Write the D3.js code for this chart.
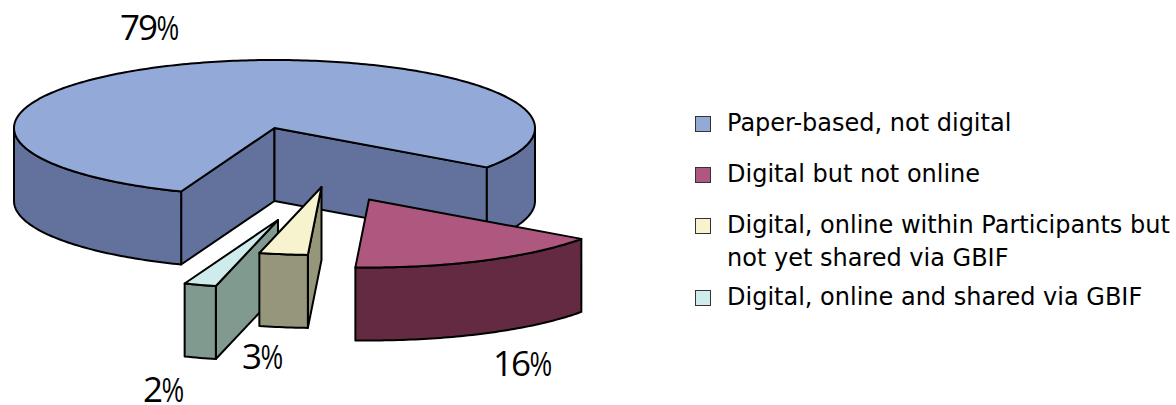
<!DOCTYPE html>
<html>
<head>
<meta charset="utf-8">
<script src="https://cdn.jsdelivr.net/npm/d3@7"></script>
<style>
html, body { margin: 0; padding: 0; background: #fff; }
svg { display: block; }
.legend text { font-family: "DejaVu Sans", sans-serif; font-size: 24px; fill: #000; }
.pct text { font-family: "Open Sans", sans-serif; font-size: 35px; fill: #000; letter-spacing: -2px; }
.pct text.sign { font-family: "Liberation Sans", sans-serif; font-size: 35px; letter-spacing: 0; }
</style>
</head>
<body>
<svg id="chart" width="1176" height="405"></svg>
<script>
// Share of specimen records by digitisation status
const categories = [
  "Paper-based, not digital",
  "Digital but not online",
  "Digital, online within Participants but|not yet shared via GBIF",
  "Digital, online and shared via GBIF"
];
const shares = [79, 16, 3, 2];
const topColors = ["#93a9d8", "#ae5880", "#f7f3cf", "#cfecec"];
const wallColors = ["#62729c", "#632a42", "#96977a", "#809a90"];

// Tilted-disc projection: unit coordinates map onto the ellipse of the pie top
const cx = 274.5, cy = 128, rx = 260.5, ry = 68, depth = 73;
const sx = d3.scaleLinear().domain([-1, 1]).range([cx - rx, cx + rx]);
const sy = d3.scaleLinear().domain([-1, 1]).range([cy - ry, cy + ry]);

// How far each slice is pulled away from the disc
const pull = [[0, 0], [94.5, 71.5], [47, 59], [3.5, 92]];
// Label anchor, slice by slice
const labelPos = [[120, 40], [493, 376], [242, 369], [143, 402]];

const pie = d3.pie().sort(null).value(d => d)
  .startAngle(201 * Math.PI / 180)
  .endAngle((201 + 360) * Math.PI / 180);
const slices = pie(shares).map((s, i) => ({ ...s, i, off: pull[i] }));

const line = d3.line();
const pt = (a, off, r = 1, z = 0) => [
  sx(r * Math.sin(a)) + off[0],
  sy(-r * Math.cos(a)) + off[1] + z
];
// Points along a rim between two pie angles
const rim = (a0, a1, off, z = 0) => {
  const n = Math.max(2, Math.ceil(Math.abs(a1 - a0) * 60));
  return d3.range(n + 1).map(k => pt(a0 + (a1 - a0) * k / n, off, 1, z));
};

const svg = d3.select("#chart");
const draw = (g, pts, fill) =>
  g.append("path")
    .attr("d", line(pts) + "Z")
    .attr("fill", fill)
    .attr("stroke", "#000")
    .attr("stroke-width", 2)
    .attr("stroke-linejoin", "round");

const pies = svg.append("g");

// Outer wall, restricted to the part of the rim that faces the viewer
const outerWall = (g, s, a0, a1) => {
  const top = rim(a0, a1, s.off);
  const bottom = rim(a1, a0, s.off, depth);
  draw(g, top.concat(bottom), wallColors[s.i]);
};
// Flat radial wall running from the disc centre to the rim
const radialWall = (g, s, a) => {
  const c = pt(0, s.off, 0), e = pt(a, s.off);
  draw(g, [c, e, [e[0], e[1] + depth], [c[0], c[1] + depth]], wallColors[s.i]);
};
const topFace = (g, s) =>
  draw(g, [pt(0, s.off, 0)].concat(rim(s.startAngle, s.endAngle, s.off)), topColors[s.i]);

const quarter = Math.PI / 2;
const TAU = Math.PI * 2;

// Large slice: both cut faces are visible, then the rim on each side
{
  const s = slices[0], g = pies.append("g");
  radialWall(g, s, s.startAngle);
  radialWall(g, s, s.endAngle);
  outerWall(g, s, s.startAngle, 3 * quarter);
  outerWall(g, s, TAU + quarter, s.endAngle);
  topFace(g, s);
}

// Pulled-out slices, back to front
[slices[3], slices[2], slices[1]].forEach(s => {
  const g = pies.append("g");
  if (s.i !== 1) radialWall(g, s, s.startAngle);
  outerWall(g, s, s.startAngle, s.endAngle);
  topFace(g, s);
});

// Value labels: digits followed by a condensed percent sign
const pctGroup = svg.append("g").attr("class", "pct");
slices.forEach(d => {
  const [x, y] = labelPos[d.i];
  const digits = pctGroup.append("text").attr("x", x).attr("y", y).text(d.data);
  const w = digits.node().getComputedTextLength();
  pctGroup.append("text").attr("class", "sign")
    .attr("transform", `translate(${x + w + 1},${y}) scale(0.7,1)`)
    .text("%");
});

// Legend
const legendRows = [131, 182, 233, 305];
const legend = svg.append("g").attr("class", "legend");
categories.forEach((name, i) => {
  legend.append("rect")
    .attr("x", 695.5).attr("y", legendRows[i] - 14.5)
    .attr("width", 15).attr("height", 15)
    .attr("fill", topColors[i]).attr("stroke", "#333").attr("stroke-width", 1);
  name.split("|").forEach((part, k) => {
    legend.append("text")
      .attr("x", 727).attr("y", legendRows[i] + k * 33).text(part);
  });
});
</script>
</body>
</html>
